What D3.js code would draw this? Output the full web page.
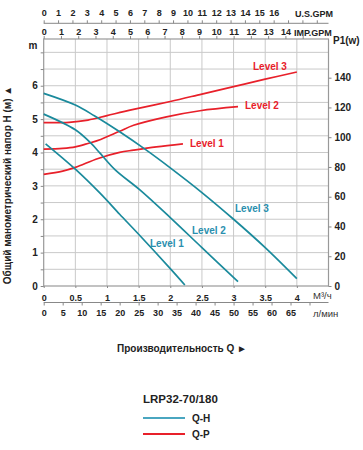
<!DOCTYPE html>
<html>
<head>
<meta charset="utf-8">
<title>LRP32-70/180</title>
<script src="https://cdn.jsdelivr.net/npm/d3@7"></script>
<style>
  body{margin:0;background:#fff;font-family:"Liberation Sans",Arial,sans-serif;}
  .axis text{font-size:9px;font-weight:bold;fill:#222;font-family:"Liberation Sans",Arial,sans-serif;}
  .axis path,.axis line{stroke:#888;}
  .grid line{stroke:#c9c9c9;stroke-width:1;}
  .lbl{font-size:10px;font-weight:bold;}
</style>
</head>
<body>
<div id="chart"></div>
<script>
// Q (m3/h), H (m)
var qhLevel1 = [[0.03,4.26],[0.5,3.5],[0.89,2.78],[1.2,2.15],[1.5,1.55],[2.0,0.52],[2.23,0.03]];
var qhLevel2 = [[0,5.15],[0.5,4.68],[0.75,4.27],[0.89,3.98],[1.13,3.48],[1.52,2.88],[2.0,2.05],[2.5,1.15],[3.07,0.13]];
var qhLevel3 = [[0,5.77],[0.5,5.42],[0.8,5.1],[1.2,4.62],[1.6,4.1],[2.0,3.54],[2.5,2.8],[3.0,2.0],[3.5,1.15],[4.0,0.22]];
// Q (m3/h), P1 (W)
var qpLevel1 = [[0,75],[0.3,77.2],[0.5,79.7],[0.86,85.7],[1.2,89.8],[1.42,91.3],[1.78,93.5],[2.2,95.5]];
var qpLevel2 = [[0,92],[0.3,92.5],[0.5,93.5],[0.7,95.8],[0.9,98.5],[1.2,104],[1.42,108],[1.94,113.7],[2.47,117.8],[3.07,120.5]];
var qpLevel3 = [[0,109.8],[0.4,110],[0.7,111.5],[1.0,114.5],[1.4,118.5],[2.0,124],[2.5,129],[3.0,134],[3.5,139],[4.0,143.8]];

var m3hTicks = [0,0.5,1,1.5,2,2.5,3,3.5,4];
var lminTicks = [0,5,10,15,20,25,30,35,40,45,50,55,60,65];
var usGpmTicks = [0,1,2,3,4,5,6,7,8,9,10,11,12,13,14,15,16];
var impGpmTicks = [0,1,2,3,4,5,6,7,8,9,10,11,12,13,14];
var hTicks = [0,1,2,3,4,5,6];
var pTicks = [0,20,40,60,80,100,120,140];

var teal = "#1a8a9c", red = "#e8202a";

var svg = d3.select("#chart").append("svg").attr("width",363).attr("height",450);

var x = d3.scaleLinear().domain([0,4.5]).range([43.7,328.5]);
var yH = d3.scaleLinear().domain([0,7.4]).range([286,39]);
var yP = d3.scaleLinear().domain([0,166]).range([286,39]);

// grid
var g = svg.append("g").attr("class","grid");
g.selectAll(".v").data(d3.range(0.5,4.5,0.5)).enter().append("line")
  .attr("x1",d=>x(d)).attr("x2",d=>x(d)).attr("y1",yH(0)).attr("y2",yH(7.4));
g.selectAll(".h").data(d3.range(0.5,7.4,0.5)).enter().append("line")
  .attr("y1",d=>yH(d)).attr("y2",d=>yH(d)).attr("x1",x(0)).attr("x2",x(4.5));
svg.append("rect").attr("x",x(0)).attr("y",yH(7.4)).attr("width",x(4.5)-x(0)).attr("height",yH(0)-yH(7.4))
  .attr("fill","none").attr("stroke","#999").attr("stroke-width",1.2);

// left axis H
var leftAx = svg.append("g").attr("class","axis").attr("transform","translate("+x(0)+",0)")
  .call(d3.axisLeft(yH).tickValues(d3.range(0,7.5,0.5)).tickSize(3).tickFormat(d=>hTicks.indexOf(d)>=0?d:""));
leftAx.select(".domain").remove();
leftAx.selectAll("text").style("font-size","10px");
svg.append("text").attr("x",33).attr("y",49).attr("text-anchor","middle").attr("class","lbl").attr("fill","#222").text("m");

// right axis P1
var rightAx = svg.append("g").attr("class","axis").attr("transform","translate("+x(4.5)+",0)")
  .call(d3.axisRight(yP).tickValues(pTicks).tickSize(3));
rightAx.select(".domain").remove();
rightAx.selectAll("text").style("font-size","10px");
svg.append("text").attr("x",333).attr("y",44).attr("class","lbl").attr("fill","#222").text("P1(w)");

// bottom m3/h
var botAx = svg.append("g").attr("class","axis").attr("transform","translate(0,"+yH(0)+")")
  .call(d3.axisBottom(x).tickValues(m3hTicks).tickSize(2).tickFormat(d3.format("")));
botAx.select(".domain").remove();
botAx.selectAll("text").attr("y",9);
svg.append("text").attr("x",313).attr("y",299).attr("font-size","9.5px").attr("fill","#333").text("М³/ч");

// bottom l/min
var xl = d3.scaleLinear().domain([0,75]).range([x(0),x(4.5)]);
var lAx = svg.append("g").attr("class","axis").attr("transform","translate(0,302.5)")
  .call(d3.axisBottom(xl).tickValues(d3.range(0,75,5)).tickSize(3).tickFormat(d=>lminTicks.indexOf(d)>=0?d:""));
lAx.select(".domain").attr("d","M"+x(0)+",0H"+x(4.5));
lAx.selectAll("text").attr("y",7);
svg.append("text").attr("x",313).attr("y",317).attr("font-size","9.5px").attr("fill","#333").text("л/мин");

// top US GPM
var xu = d3.scaleLinear().domain([0,4.5/0.2271]).range([x(0),x(4.5)]);
var uAx = svg.append("g").attr("class","axis").attr("transform","translate(0,23.3)")
  .call(d3.axisTop(xu).tickValues(d3.range(0,20,1)).tickSize(3).tickFormat(d=>usGpmTicks.indexOf(d)>=0?d:""));
uAx.select(".domain").attr("d","M"+x(0)+",0H"+x(4.5));
uAx.selectAll("text").attr("y",-7);
svg.append("text").attr("x",295).attr("y",17).attr("class","axis").append("tspan")
  .attr("font-size","9px").attr("font-weight","bold").attr("fill","#222").text("U.S.GPM");

// top IMP GPM
var xi = d3.scaleLinear().domain([0,4.5/0.2728]).range([x(0),x(4.5)]);
var iAx = svg.append("g").attr("class","axis").attr("transform","translate(0,"+yH(7.4)+")")
  .call(d3.axisTop(xi).tickValues(d3.range(0,16,1)).tickSize(3).tickFormat(d=>impGpmTicks.indexOf(d)>=0?d:""));
iAx.select(".domain").remove();
iAx.selectAll("text").attr("y",-4);
svg.append("text").attr("x",294).attr("y",36).attr("font-size","9px").attr("font-weight","bold").attr("fill","#222").text("IMP.GPM");

// curves
var lineH = d3.line().x(d=>x(d[0])).y(d=>yH(d[1])).curve(d3.curveCatmullRom);
var lineP = d3.line().x(d=>x(d[0])).y(d=>yP(d[1])).curve(d3.curveCatmullRom);
[qpLevel1,qpLevel2,qpLevel3].forEach(function(s){
  svg.append("path").attr("d",lineP(s)).attr("fill","none").attr("stroke",red).attr("stroke-width",1.7);
});
[qhLevel1,qhLevel2,qhLevel3].forEach(function(s){
  svg.append("path").attr("d",lineH(s)).attr("fill","none").attr("stroke",teal).attr("stroke-width",1.7);
});

// curve labels
var redLabels = [["Level 3",253,70],["Level 2",245,109],["Level 1",190,147]];
var tealLabels = [["Level 3",235,212],["Level 2",192,234],["Level 1",150,247]];
redLabels.forEach(function(l){
  svg.append("text").attr("x",l[1]).attr("y",l[2]).attr("class","lbl").attr("fill",red).text(l[0]);
});
tealLabels.forEach(function(l){
  svg.append("text").attr("x",l[1]).attr("y",l[2]).attr("class","lbl").attr("fill","#2a8fae").text(l[0]);
});

// axis titles
svg.append("text").attr("transform","translate(11,185) rotate(-90)").attr("text-anchor","middle")
  .attr("class","lbl").attr("fill","#222").text("Общий манометрический напор H (м) ▲");
svg.append("text").attr("x",182).attr("y",352).attr("text-anchor","middle")
  .attr("class","lbl").attr("fill","#222").text("Производительность Q ►");

// legend
svg.append("text").attr("x",143).attr("y",403).attr("font-size","11.5px").attr("font-weight","bold").attr("fill","#222").text("LRP32-70/180");
var legend = [["Q-H","#4aa6c0",418],["Q-P",red,434]];
legend.forEach(function(l){
  svg.append("line").attr("x1",143).attr("x2",185).attr("y1",l[2]).attr("y2",l[2]).attr("stroke",l[1]).attr("stroke-width",2);
  svg.append("text").attr("x",192).attr("y",l[2]+3.5).attr("class","lbl").attr("fill","#222").text(l[0]);
});
</script>
</body>
</html>
